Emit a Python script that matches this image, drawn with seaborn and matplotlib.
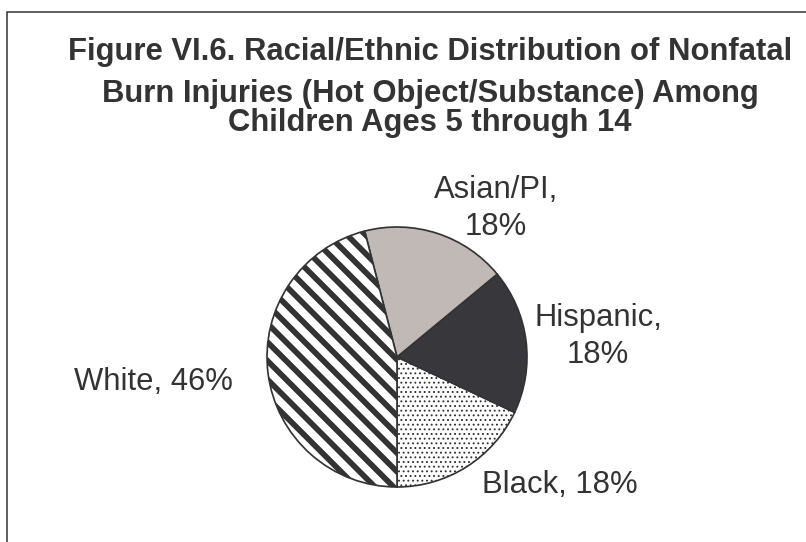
import seaborn as sns
import matplotlib.pyplot as plt
from matplotlib.patches import Rectangle

# data
CATEGORIES = ["Black", "Hispanic", "Asian/PI", "White"]
SHARES = [18, 18, 18, 46]
TWO_LINE = [False, True, True, False]
TITLE_LINES = [
    "Figure VI.6. Racial/Ethnic Distribution of Nonfatal",
    "Burn Injuries (Hot Object/Substance) Among",
    "Children Ages 5 through 14",
]

FACE = ["white", "#38373c", "#c1b9b6", "white"]
HATCH = ["....", None, None, "\\\\"]
HATCH_LW = [0.7, 1.0, 1.0, 3.7]

DPI = 112
W, H = 806, 542


def px(x, y):
    # image pixel (top-left origin) -> figure fraction
    return x / W, (H - y) / H


def pt(p):
    # pixels -> points at the output dpi
    return p * 72 / DPI


sns.set_theme(style="white")
plt.rcParams['font.family'] = ['Liberation Sans', 'DejaVu Sans']

fig = plt.figure(figsize=((W + 0.01) / DPI, (H + 0.01) / DPI), dpi=DPI)
fig.patch.set_facecolor("white")

# outer frame (right and bottom edges run off the picture)
fig.add_artist(Rectangle(px(7, 560), 1.2, (560 - 12) / H, transform=fig.transFigure,
                         fill=False, lw=pt(1.6), ec="#3a3a3a"))

# title
for line, base in zip(TITLE_LINES, [60, 102, 131]):
    fig.text(*px(430, base), line, ha="center", va="baseline", fontsize=pt(31),
             fontweight="bold", color="#333333")

# pie
cx, cy, r = 397, 357, 130
ax = fig.add_axes([(cx - r) / W, (H - cy - r) / H, 2 * r / W, 2 * r / H])
palette = sns.color_palette(FACE)
wedges, _ = ax.pie(SHARES, colors=palette, startangle=-90, counterclock=True,
                   wedgeprops=dict(edgecolor="#333333", linewidth=pt(1.7)))
for w, h, hl in zip(wedges, HATCH, HATCH_LW):
    if h:
        w.set_hatch(h)
        if hasattr(w, "set_hatch_linewidth"):
            w.set_hatch_linewidth(hl)
ax.set_xlim(-1.0, 1.0)
ax.set_ylim(-1.0, 1.0)
ax.set_axis_off()

# slice labels (anchored at the baseline of the last line)
label_pos = [(560, 493), (598, 363), (496, 235), (153, 390)]
for cat, v, two, (lx, ly) in zip(CATEGORIES, SHARES, TWO_LINE, label_pos):
    txt = f"{cat},\n{v}%" if two else f"{cat}, {v}%"
    fig.text(*px(lx, ly), txt, ha="center", va="baseline", fontsize=pt(31),
             color="#333333", linespacing=1.3, multialignment="center")

fig.savefig("out.png", dpi=DPI, facecolor="white")
